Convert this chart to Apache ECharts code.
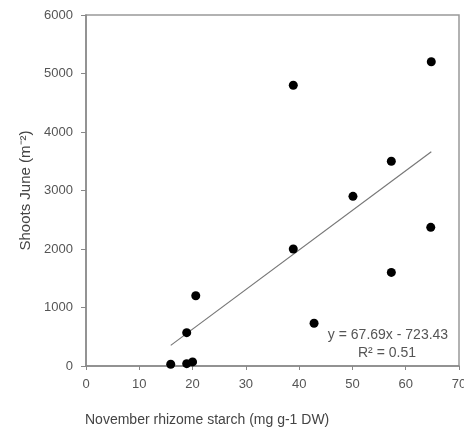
<!DOCTYPE html>
<html><head><meta charset="utf-8">
<script src="https://cdn.jsdelivr.net/npm/echarts@6/dist/echarts.min.js"></script>
<style>html,body{margin:0;padding:0;background:#fff}#c{width:464px;height:430px}</style>
</head><body><div id="c"></div>
<script>
const starch = [64.8, 38.9, 57.3, 50.1, 38.9, 64.7, 57.3, 42.8, 20.6, 18.9, 15.9, 18.9, 20.0];
const shoots = [5200, 4800, 3500, 2900, 2000, 2370, 1600, 730, 1200, 570, 30, 40, 70];
const slope = 67.69, intercept = -723.43;
const eqText = 'y = 67.69x - 723.43';
const r2Text = 'R² = 0.51';
const xTitle = 'November rhizome starch (mg g-1 DW)';
const yTitle = 'Shoots June (m⁻²)';

const pts = starch.map((x, i) => [x, shoots[i]]);
const xmin = Math.min(...starch), xmax = Math.max(...starch);
const fit = [[xmin, slope * xmin + intercept], [xmax, slope * xmax + intercept]];

const font = 'Liberation Sans, Arial, sans-serif';
const chart = echarts.init(document.getElementById('c'), null, {renderer: 'canvas'});
chart.setOption({
  animation: false,
  backgroundColor: '#fff',
  grid: {left: 86, right: 5, top: 15, bottom: 64, show: true, borderColor: '#999', borderWidth: 1.5,
         containLabel: false, outerBoundsMode: 'none'},
  xAxis: {
    type: 'value', min: 0, max: 70, interval: 10,
    axisLine: {show: true, lineStyle: {color: '#888', width: 1.5}},
    axisTick: {show: true, inside: false, length: 4, lineStyle: {color: '#888'}},
    axisLabel: {color: '#555', fontSize: 13, fontFamily: font, margin: 12, formatter: v => String(v)},
    splitLine: {show: false}
  },
  yAxis: {
    type: 'value', min: 0, max: 6000, interval: 1000,
    axisLine: {show: true, lineStyle: {color: '#888', width: 1.5}},
    axisTick: {show: true, inside: false, length: 5, lineStyle: {color: '#888'}},
    axisLabel: {color: '#555', fontSize: 13, fontFamily: font, margin: 13, formatter: v => String(v)},
    splitLine: {show: false},
    name: yTitle, nameLocation: 'middle', nameGap: 53, nameRotate: 90,
    nameTextStyle: {color: '#444', fontSize: 15, fontFamily: font}
  },
  series: [
    {
      type: 'line', data: fit, symbol: 'none', silent: true,
      lineStyle: {color: '#777', width: 1.2}, z: 2
    },
    {
      type: 'scatter', data: pts, symbol: 'circle', symbolSize: 9,
      itemStyle: {color: '#000', opacity: 1}, z: 3
    }
  ],
  graphic: [
    {type: 'text', x: 85, y: 420, style: {text: xTitle, fill: '#444', font: '14px ' + font, align: 'left', verticalAlign: 'middle'}},
    {type: 'text', x: 388, y: 335, style: {text: eqText, fill: '#555', font: '14px ' + font, align: 'center', verticalAlign: 'middle'}},
    {type: 'text', x: 387, y: 353, style: {text: r2Text, fill: '#555', font: '14px ' + font, align: 'center', verticalAlign: 'middle'}}
  ]
});
</script></body></html>
